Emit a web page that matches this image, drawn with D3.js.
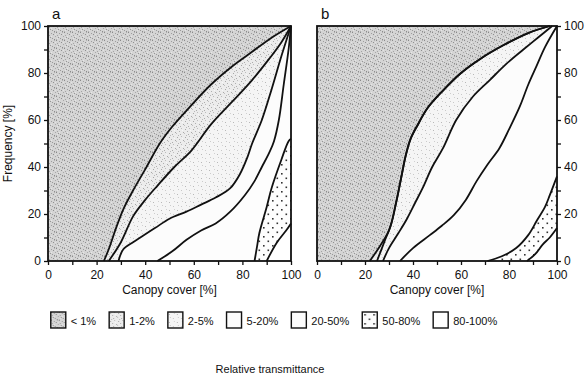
<!DOCTYPE html>
<html>
<head>
<meta charset="utf-8">
<script src="https://cdn.jsdelivr.net/npm/d3@7"></script>
<style>
  body { margin: 0; background: #fff; }
  svg { font-family: "Liberation Sans", Arial, sans-serif; }
</style>
</head>
<body>
<svg id="chart" width="587" height="374"></svg>
<script>
// transmittance classes, darkest first
const classLabels = ["< 1%", "1-2%", "2-5%", "5-20%", "20-50%", "50-80%", "80-100%"];
const xTicks = [0, 20, 40, 60, 80, 100];
const yTicks = [0, 20, 40, 60, 80, 100];

// panel a: class boundaries [canopy cover %, cumulative frequency %]
const aBound1 = [[23,0],[25,5],[28,14],[31,22],[35,30],[40,39],[46,50],[51,57],[57,64],[67,75],[76,83],[84,89],[92,95],[100,100]];
const aBound2 = [[25,0],[30,8],[35,19],[40,26],[45,32],[52,40],[59,47],[67,58],[76,68],[84,77],[91,86],[96,93],[100,100]];
const aBound3 = [[29,0],[31,5],[35,8],[38,10],[44,14],[50,18],[57,21],[63,24],[69,27],[75,31],[79,37],[82,44],[84,50],[88,60],[92,73],[96,87],[100,100]];
const aBound4 = [[45,0],[51,4],[57,9],[63,13],[69,16],[75,21],[81,28],[85,34],[88,40],[91,46],[93,51],[95,60],[97,75],[99,90],[100,100]];
const aBound5 = [[85,0],[86,6],[87,12],[90,23],[92,31],[96,43],[99,51],[100,52]];
const aBound6 = [[90,0],[94,7.6],[98,13],[100,16]];

// panel b
const bBound1 = [[22,0],[26,6],[30,13],[33,25],[35,35],[37,45],[39,52],[42,58],[46,65],[52,72],[60,80],[68,86],[78,92],[88,97],[97,100]];
const bBound2 = [[25,0],[28,8],[31,16],[33,25],[35,35],[37,45],[39,52],[42,58],[46,65],[52,72],[60,80],[68,86],[78,92],[88,97],[97,100]];
const bBound3 = [[27.5,0],[30,5.5],[34,12],[37.5,18],[41,25],[44,31],[48,40],[52.5,48],[58,60],[65,70],[72,77],[79,84],[86,90],[92,95],[98,100]];
const bBound4 = [[34.6,0],[40,5.5],[47,11],[52,15],[57,19.5],[62,26],[66.5,34],[71,41],[76,48],[80,56],[84.6,66],[88,75],[91.5,83],[95,91],[100,100]];
const bBound5 = [[71,0],[77,2],[83,5.5],[88,11],[91.5,17],[95,23],[97,28],[100,36]];
const bBound6 = [[87.5,0],[91,3],[94,7],[97,10],[100,14]];

const svg = d3.select("#chart");
const defs = svg.append("defs");

// stipple patterns for the classes (hand placed specks)
function stipple(id, size, bg, dots) {
  const p = defs.append("pattern").attr("id", id)
    .attr("patternUnits", "userSpaceOnUse").attr("width", size).attr("height", size);
  p.append("rect").attr("width", size).attr("height", size).attr("fill", bg);
  dots.forEach(d => p.append("rect").attr("x", d[0]).attr("y", d[1])
    .attr("width", d[3] || 1).attr("height", d[3] || 1).attr("fill", d[2]));
}
stipple("c0", 8, "#d4d4d4", [
  [0,0,"#8a8a8a"],[3,1,"#9e9e9e"],[6,0,"#b0b0b0"],[1,3,"#a4a4a4"],[5,2,"#8f8f8f"],
  [2,5,"#969696"],[7,4,"#a8a8a8"],[4,6,"#9a9a9a"],[0,7,"#b4b4b4"],[6,7,"#8c8c8c"],
  [3,4,"#e6e6e6"],[7,2,"#e2e2e2"],[1,6,"#e4e4e4"]]);
stipple("c1", 8, "#ececec", [
  [1,1,"#a6a6a6"],[5,0,"#bcbcbc"],[3,3,"#b0b0b0"],[7,4,"#a8a8a8"],[0,5,"#c0c0c0"],
  [4,6,"#acacac"],[6,2,"#f8f8f8"],[2,7,"#b8b8b8"]]);
stipple("c2", 8, "#f5f5f5", [[1,2,"#b8b8b8"],[5,6,"#c8c8c8"],[6,1,"#d0d0d0"],[2,5,"#cccccc"]]);
stipple("c5", 9, "#fdfdfd", [[2,2,"#333",1.6],[6.5,6.5,"#333",1.6]]);
const fills = ["url(#c0)", "url(#c1)", "url(#c2)", "#fcfcfc", "#fdfdfd", "url(#c5)", "#fff"];

const y = d3.scaleLinear().domain([0, 100]).range([261, 26]);

const panels = [
  { name: "a", x: d3.scaleLinear().domain([0, 100]).range([48, 291]),
    bounds: [aBound1, aBound2, aBound3, aBound4, aBound5, aBound6], side: "left" },
  { name: "b", x: d3.scaleLinear().domain([0, 100]).range([317, 557]),
    bounds: [bBound1, bBound2, bBound3, bBound4, bBound5, bBound6], side: "right" }
];

panels.forEach(p => {
  const x = p.x;
  const g = svg.append("g");
  const line = d3.line().x(d => x(d[0])).y(d => y(d[1])).curve(d3.curveCatmullRom.alpha(0.5));

  // highest class covers everything, then paint the area left of each boundary
  g.append("rect").attr("x", x(0)).attr("y", y(100))
    .attr("width", x(100) - x(0)).attr("height", y(0) - y(100)).attr("fill", fills[6]);
  for (let k = p.bounds.length - 1; k >= 0; k--) {
    const pts = p.bounds[k];
    const last = pts[pts.length - 1];
    let d = line(pts);
    if (last[1] < 100) d += "L" + x(100) + "," + y(100);
    d += "L" + x(0) + "," + y(100) + "L" + x(0) + "," + y(0) + "Z";
    g.append("path").attr("d", d).attr("fill", fills[k]);
  }
  p.bounds.forEach(pts => {
    g.append("path").attr("d", line(pts)).attr("fill", "none")
      .attr("stroke", "#111").attr("stroke-width", 1.8);
  });

  // frame
  g.append("rect").attr("x", x(0)).attr("y", y(100))
    .attr("width", x(100) - x(0)).attr("height", y(0) - y(100))
    .attr("fill", "none").attr("stroke", "#111").attr("stroke-width", 1.8);

  const xAxis = g.append("g").attr("transform", `translate(0,${y(0)})`)
    .call(d3.axisBottom(x).tickValues(d3.range(0, 101, 10))
      .tickFormat(d => xTicks.includes(d) ? d : "").tickSize(4).tickPadding(5));
  const yAxis = g.append("g")
    .attr("transform", `translate(${p.side === "left" ? x(0) : x(100)},0)`)
    .call((p.side === "left" ? d3.axisLeft(y) : d3.axisRight(y)).tickValues(d3.range(0, 101, 10))
      .tickFormat(d => yTicks.includes(d) ? d : "").tickSize(4).tickPadding(3));
  [xAxis, yAxis].forEach(a => {
    a.select(".domain").remove();
    a.selectAll("line").attr("stroke", "#111").attr("stroke-width", 1.3);
    a.selectAll("text").attr("font-size", 12).attr("fill", "#111")
      .attr("font-family", "'Liberation Sans', Arial, sans-serif");
  });

  g.append("text").attr("x", x(0) + 4).attr("y", 19).attr("font-size", 15).attr("fill", "#111").text(p.name);
  g.append("text").attr("x", (x(0) + x(100)) / 2).attr("y", 294)
    .attr("text-anchor", "middle").attr("font-size", 12).attr("fill", "#111").text("Canopy cover [%]");
});

svg.append("text").attr("transform", `translate(12,${(y(0) + y(100)) / 2}) rotate(-90)`)
  .attr("text-anchor", "middle").attr("font-size", 12).attr("fill", "#111").text("Frequency [%]");

// legend
const legend = svg.append("g");
const items = legend.selectAll("g").data(classLabels).join("g");
items.append("rect").attr("width", 15).attr("height", 16)
  .attr("fill", (d, i) => fills[i]).attr("stroke", "#111").attr("stroke-width", 1.4);
items.append("text").attr("x", 20).attr("y", 12.5).attr("font-size", 11).attr("fill", "#111").text(d => d);
let lx = 0;
const gap = 13;
items.each(function () {
  const w = 20 + this.querySelector("text").getComputedTextLength();
  d3.select(this).attr("data-x", lx);
  lx += w + gap;
});
const total = lx - gap;
const start = 274 - total / 2;
items.attr("transform", function () { return `translate(${start + +this.getAttribute("data-x")},312)`; });

svg.append("text").attr("x", 270).attr("y", 373).attr("text-anchor", "middle")
  .attr("font-size", 11).attr("fill", "#111").text("Relative transmittance");
</script>
</body>
</html>
